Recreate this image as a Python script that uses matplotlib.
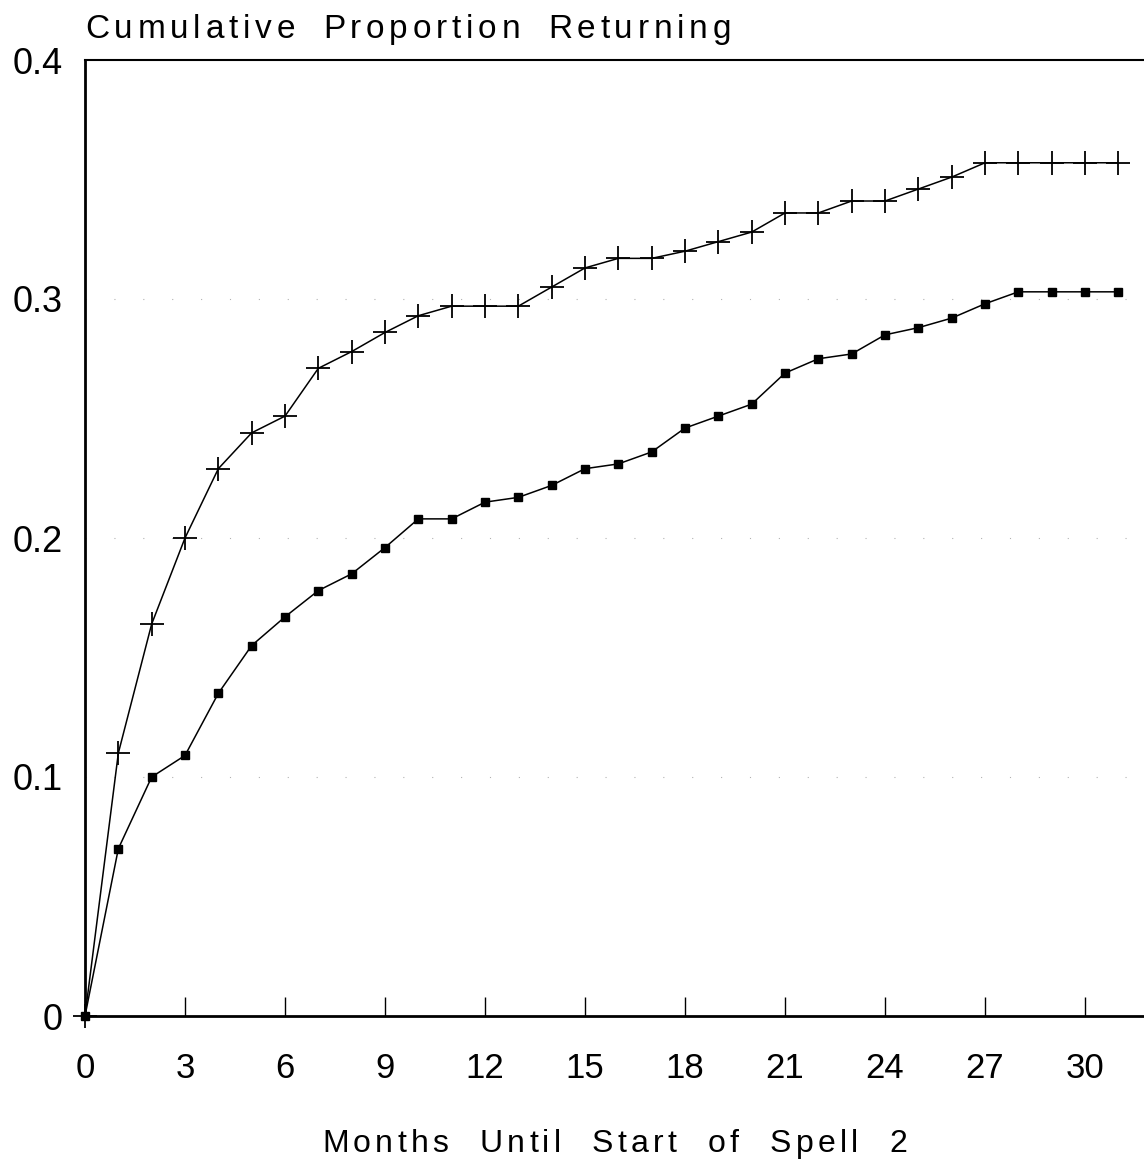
import matplotlib
matplotlib.use('Agg')
import matplotlib.pyplot as plt
from matplotlib.transforms import IdentityTransform

months = list(range(32))

# upper curve (+ markers)
upper = [0.0, 0.110, 0.164, 0.200, 0.229, 0.244, 0.251, 0.271, 0.278, 0.286,
         0.293, 0.297, 0.297, 0.297, 0.305, 0.313, 0.317, 0.317, 0.320, 0.324,
         0.328, 0.336, 0.336, 0.341, 0.341, 0.346, 0.351, 0.357, 0.357, 0.357,
         0.357, 0.357]

# lower curve (square markers)
lower = [0.0, 0.070, 0.100, 0.109, 0.135, 0.155, 0.167, 0.178, 0.185, 0.196,
         0.208, 0.208, 0.215, 0.217, 0.222, 0.229, 0.231, 0.236, 0.246, 0.251,
         0.256, 0.269, 0.275, 0.277, 0.285, 0.288, 0.292, 0.298, 0.303, 0.303,
         0.303, 0.303]

xticks = [0, 3, 6, 9, 12, 15, 18, 21, 24, 27, 30]
yticks = [0, 0.1, 0.2, 0.3, 0.4]
ytick_labels = ['0', '0.1', '0.2', '0.3', '0.4']

TITLE = 'Cumulative Proportion Returning'
XLABEL = 'Months Until Start of Spell 2'

W, H = 1144, 1164
plt.rcParams['font.family'] = ['Liberation Sans', 'DejaVu Sans']

fig = plt.figure(figsize=(W / 100, H / 100), dpi=100)
ax = fig.add_axes([85 / W, 1 - 1016 / H, 1 - 85 / W, (1016 - 60) / H])

ax.plot(months, upper, color='black', linewidth=1.1, marker='+',
        markersize=17, markeredgewidth=1.3, clip_on=False, zorder=3)
ax.plot(months, lower, color='black', linewidth=1.1, marker='s',
        markersize=5.5, clip_on=False, zorder=3)

# faint dotted remnants of grid lines
for yv in [0.1, 0.2, 0.3]:
    ax.axhline(yv, color='gray', linewidth=0.8, linestyle=(0, (1, 25)), alpha=0.6)

ax.set_xlim(0, 31.77)
ax.set_ylim(0, 0.4)
ax.set_xticks(xticks)
ax.set_yticks(yticks)
ax.set_yticklabels(ytick_labels)
ax.tick_params(axis='x', direction='in', length=14, width=1.0, labelsize=25, pad=26)
ax.tick_params(axis='y', length=0, labelsize=26, pad=16)

ax.spines['right'].set_visible(False)
ax.spines['left'].set_linewidth(2.0)
ax.spines['bottom'].set_linewidth(2.0)
ax.spines['top'].set_linewidth(1.5)

renderer = fig.canvas.get_renderer()


def tracked_text(x, y_top, s, size, tracking, word_gap):
    # place characters one by one (pixel coords, y measured from top) to get letter spacing
    y = H - y_top
    for word in s.split(' '):
        for ch in word:
            t = fig.text(x, y, ch, fontsize=size, ha='left', va='baseline',
                         transform=IdentityTransform())
            x += t.get_window_extent(renderer).width + tracking
        x += word_gap - tracking


tracked_text(85, 38, TITLE, 24, 4.8, 28)
tracked_text(322, 1152, XLABEL, 23, 4.3, 31)

fig.savefig('out.png', dpi=100)
